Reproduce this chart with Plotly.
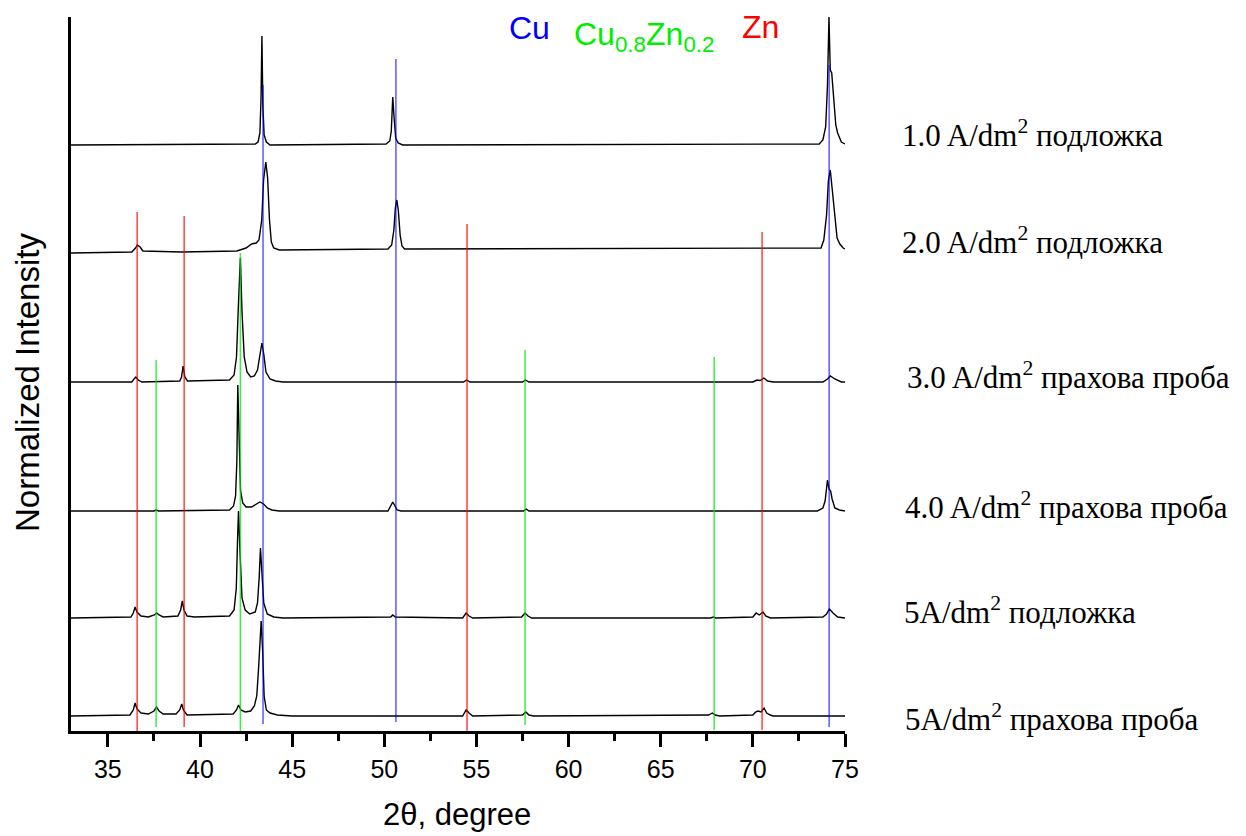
import plotly.graph_objects as go

# ---------------- data (2theta in degrees, intensity in arbitrary units) ----------------
sample_labels = [
    "1.0 A/dm<sup>2</sup> подложка",
    "2.0 A/dm<sup>2</sup> подложка",
    "3.0 A/dm<sup>2</sup> прахова проба",
    "4.0 A/dm<sup>2</sup> прахова проба",
    "5A/dm<sup>2</sup> подложка",
    "5A/dm<sup>2</sup> прахова проба",
]
offsets = [586, 481, 349, 220, 113, 15]

t1_x = [33.0, 43.0, 43.15, 43.25, 43.31, 43.36, 43.41, 43.48, 43.6, 43.8,
        50.1, 50.3, 50.38, 50.46, 50.53, 50.62, 50.75, 51.0,
        73.6, 73.8, 73.95, 74.05, 74.13, 74.2, 74.28, 74.35, 74.5, 74.6, 74.8, 75.0]
t1_y = [0, 1, 3, 12, 45, 109, 40, 10, 3, 0,
        1, 4, 14, 48, 28, 7, 2, 0,
        1, 5, 18, 60, 128, 75, 72, 58, 20, 12, 3, 1]

t2_x = [33.0, 36.3, 36.5, 36.6, 36.75, 36.9, 39.0, 42.0, 42.5, 42.8, 43.05, 43.2, 43.35,
        43.45, 43.57, 43.67, 43.77, 43.87, 44.0, 44.3,
        50.2, 50.4, 50.52, 50.6, 50.68, 50.76, 50.86, 50.96, 51.1,
        73.7, 73.85, 74.0, 74.1, 74.2, 74.3, 74.45, 74.57, 74.72, 74.9, 75.0]
t2_y = [-3, -2, 2, 5, 3, -1, -2, -1, 2, 6, 7, 10, 30,
        70, 88, 72, 30, 8, 2, 0,
        1, 5, 20, 42, 50, 40, 15, 4, 1,
        2, 10, 35, 70, 80, 62, 30, 12, 6, 2, 1]

t3_x = [33.0, 36.3, 36.42, 36.52, 36.65, 36.85, 38.9, 39.0, 39.08, 39.18, 39.32,
        41.6, 41.85, 41.98, 42.08, 42.19, 42.28, 42.4, 42.55, 42.75, 42.95, 43.12,
        43.26, 43.36, 43.46, 43.58, 43.8, 44.1, 44.5,
        54.3, 54.47, 54.65, 57.5, 57.66, 57.85, 70.0, 70.22, 70.4, 70.6, 70.8, 71.1,
        73.8, 74.05, 74.2, 74.45, 74.8, 75.0]
t3_y = [0, 0, 3, 5, 2, 0, 1, 5, 16, 5, 1,
        2, 7, 25, 75, 124, 70, 25, 10, 5, 6, 12,
        28, 39, 28, 10, 3, 1, 0,
        0, 2, 0, 0, 2, 0, 0, 2, 1.5, 4, 1, 0,
        0, 3, 6, 3, 0, 0]

t4_x = [33.0, 37.5, 37.62, 37.75, 41.6, 41.82, 41.93, 42.0, 42.05, 42.12, 42.2, 42.32,
        42.5, 42.8, 43.05, 43.25, 43.45, 43.65, 43.9, 44.3,
        50.2, 50.36, 50.46, 50.55, 50.7, 50.9, 57.55, 57.7, 57.85,
        73.5, 73.8, 73.92, 74.0, 74.05, 74.13, 74.22, 74.3, 74.45, 74.7, 75.0]
t4_y = [0, 0, 1, 0, 1, 5, 15, 50, 126, 60, 20, 8,
        4, 4, 7, 9, 7, 3, 1, 0,
        0, 5, 9, 6, 1, 0, 0, 2, 0,
        0, 3, 10, 28, 31, 22, 20, 12, 3, 1, 0]

t5_x = [33.0, 36.25, 36.38, 36.48, 36.58, 36.8, 37.2, 37.52, 37.65, 37.78, 38.0,
        38.8, 38.95, 39.04, 39.13, 39.3, 39.7,
        41.6, 41.85, 41.97, 42.04, 42.09, 42.16, 42.28, 42.45, 42.7, 43.0, 43.12,
        43.21, 43.28, 43.36, 43.46, 43.65, 44.0, 44.5,
        50.35, 50.46, 50.6, 54.25, 54.44, 54.6, 54.8, 57.45, 57.64, 57.8, 58.0,
        67.7, 67.86, 68.0, 70.0, 70.18, 70.35, 70.55, 70.7, 70.95,
        73.8, 74.0, 74.15, 74.35, 74.6, 75.0]
t5_y = [0, 1, 5, 11, 6, 2, 1, 3, 5, 3, 1,
        2, 8, 17, 8, 2, 1,
        2, 8, 30, 80, 107, 70, 20, 8, 4, 6, 15,
        40, 70, 45, 15, 4, 1, 0,
        1, 3, 1, 0, 5, 2, 0, 1, 5, 2, 0,
        0, 1, 0, 1, 5, 3, 6, 2, 0,
        1, 4, 9, 5, 1, 0]

t6_x = [33.0, 36.2, 36.38, 36.48, 36.58, 36.8, 37.2, 37.5, 37.64, 37.78, 38.0,
        38.7, 38.9, 39.01, 39.1, 39.3,
        41.8, 41.98, 42.09, 42.22, 42.45, 42.75, 42.95, 43.08, 43.17, 43.26,
        43.32, 43.4, 43.48, 43.6, 43.8, 44.2, 45.0,
        54.25, 54.44, 54.6, 54.8, 57.5, 57.68, 57.85, 58.1, 67.6, 67.8, 67.95, 68.2,
        70.0, 70.15, 70.27, 70.45, 70.61, 70.75, 70.95, 71.1, 75.0]
t6_y = [0, 1, 6, 13, 7, 3, 2, 5, 9, 5, 2,
        2, 6, 12, 6, 1,
        2, 6, 11, 6, 4, 5, 10, 20, 45, 80,
        95, 65, 20, 6, 3, 1, 0,
        0, 6, 3, 0, 1, 4, 1, 0, 1, 3, 1, 0,
        1, 4, 5, 4, 8, 3, 1, 0, 0]

traces_x = [t1_x, t2_x, t3_x, t4_x, t5_x, t6_x]
traces_y = [t1_y, t2_y, t3_y, t4_y, t5_y, t6_y]

# reference (stick) lines: position, top, bottom
zn_pos = [36.59, 39.14, 54.49, 70.5]
zn_top = [519, 515, 507, 499]
zn_bot = [-2, 4, 0, 1]
cuzn_pos = [37.62, 42.19, 57.64, 67.9]
cuzn_top = [371, 478, 381, 374]
cuzn_bot = [4, -1, 6, 1]
cu_pos = [43.42, 50.63, 74.14]
cu_top = [646, 672, 666]
cu_bot = [7, 9, 4]

x_ticks = [35, 40, 45, 50, 55, 60, 65, 70, 75]

# ---------------- figure ----------------
fig = go.Figure()

for xs, ys, off in zip(traces_x, traces_y, offsets):
    fig.add_trace(go.Scatter(
        x=xs, y=[v + off for v in ys], mode="lines",
        line=dict(color="black", width=1.4), showlegend=False, hoverinfo="skip"))


def sticks(pos, top, bot, color):
    xs, ys = [], []
    for p, t, b in zip(pos, top, bot):
        xs += [p, p, None]
        ys += [b, t, None]
    fig.add_trace(go.Scatter(x=xs, y=ys, mode="lines", line=dict(color=color, width=1.5),
                             showlegend=False, hoverinfo="skip", cliponaxis=False))


sticks(zn_pos, zn_top, zn_bot, "rgba(255,0,0,0.75)")
sticks(cuzn_pos, cuzn_top, cuzn_bot, "rgba(0,230,0,0.75)")
sticks(cu_pos, cu_top, cu_bot, "rgba(0,0,255,0.65)")

fig.update_xaxes(
    range=[33, 75], tickmode="array", tickvals=x_ticks, ticktext=[str(v) for v in x_ticks],
    showline=True, linecolor="black", linewidth=3, mirror=False,
    ticks="outside", ticklen=13, tickwidth=3, tickcolor="black",
    minor=dict(dtick=2.5, tick0=32.5, ticks="outside", ticklen=7, tickwidth=3, tickcolor="black"),
    tickfont=dict(family="Arial, Liberation Sans", size=25, color="black"),
    ticklabelstandoff=1,
    showgrid=False, zeroline=False,
)
fig.update_yaxes(
    range=[0, 714], showline=True, linecolor="black", linewidth=3,
    showticklabels=False, ticks="", showgrid=False, zeroline=False,
)

fig.update_layout(
    width=1246, height=836,
    margin=dict(l=71, r=401, t=17, b=105),
    plot_bgcolor="white", paper_bgcolor="white",
    showlegend=False,
)

# pixel -> paper helpers
W, H = 1246, 836
L, R, T, B = 71, 401, 17, 105
pw, ph = W - L - R, H - T - B


def px(x):
    return (x - L) / pw


def py(y):
    return (H - B - y) / ph


label_y = [133, 240, 375, 505, 610, 717]
label_x = [900, 900, 905, 903, 902, 903]

anns = []
anns.append(dict(text="2θ, degree", x=px(457), y=py(814), xref="paper", yref="paper",
                 showarrow=False, xanchor="center", yanchor="middle",
                 font=dict(family="Arial, Liberation Sans", size=31, color="black")))
anns.append(dict(text="Normalized Intensity", x=px(28), y=py(383), xref="paper", yref="paper",
                 showarrow=False, xanchor="center", yanchor="middle", textangle=-90,
                 font=dict(family="Arial, Liberation Sans", size=33, color="black")))
for txt, lx, ly in zip(sample_labels, label_x, label_y):
    anns.append(dict(text=txt, x=px(lx), y=py(ly), xref="paper", yref="paper",
                     showarrow=False, xanchor="left", yanchor="middle",
                     font=dict(family="Liberation Serif, Times New Roman", size=31, color="black")))
# phase legend
anns.append(dict(text="Cu", x=px(529), y=py(28), xref="paper", yref="paper", showarrow=False,
                 xanchor="center", yanchor="middle",
                 font=dict(family="Arial, Liberation Sans", size=32, color="#0000ff")))
anns.append(dict(text="Cu<sub>0.8</sub>Zn<sub>0.2</sub>", x=px(572), y=py(36), xref="paper",
                 yref="paper", showarrow=False, xanchor="left", yanchor="middle",
                 font=dict(family="Arial, Liberation Sans", size=32, color="#00ee00")))
anns.append(dict(text="Zn", x=px(760), y=py(27), xref="paper", yref="paper", showarrow=False,
                 xanchor="center", yanchor="middle",
                 font=dict(family="Arial, Liberation Sans", size=32, color="#ff0000")))

fig.update_layout(annotations=anns)

fig.write_html("out.html")
